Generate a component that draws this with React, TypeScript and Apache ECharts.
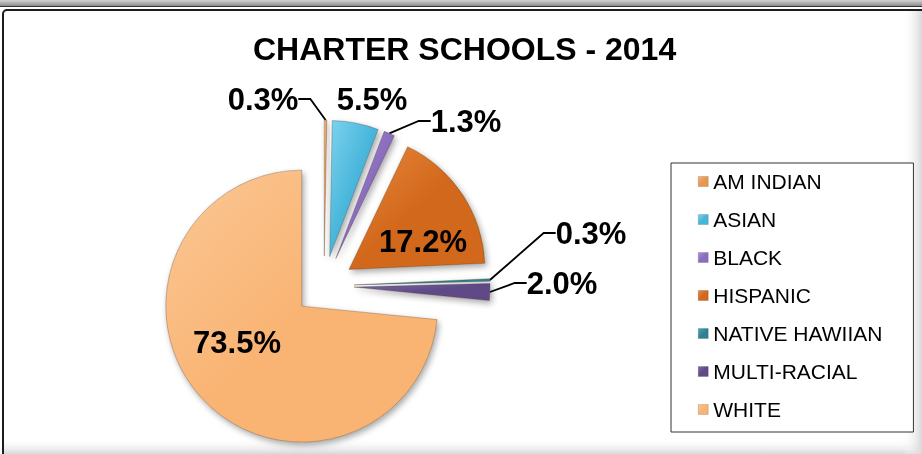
import React, { useEffect, useRef } from "react";
import * as echarts from "echarts";

const titleText = "CHARTER SCHOOLS - 2014";
const categories = ["AM INDIAN", "ASIAN", "BLACK", "HISPANIC", "NATIVE HAWIIAN", "MULTI-RACIAL", "WHITE"];
const percents = [0.3, 5.5, 1.3, 17.2, 0.3, 2.0, 73.5];
const baseColors = ["#E8974F", "#47B5DA", "#8A6DBE", "#D2681C", "#2F8293", "#5E4A86", "#F9B473"];
const lightColors = ["#F5B57A", "#7DD3EE", "#A891D6", "#E8883E", "#4FA5B8", "#7C68A6", "#FBC796"];

// layout settings
const pieCenter = [324, 286];
const pieRadius = 136;
const explode = 30;
const insideLabels = [3, 6];
const labelPos: [number, number][] = [
  [263, 99], [372, 99], [466, 121], [423, 241], [591, 233], [562, 283], [237, 342],
];

export default function App() {
  const ref = useRef<HTMLDivElement>(null);
  useEffect(() => {
    if (!ref.current) return;
    const chart = echarts.init(ref.current, undefined, { renderer: "svg" });
    const font = "'Liberation Sans', Arial, sans-serif";
    const total = percents.reduce((a, b) => a + b, 0);

    const gradient = (i: number) =>
      new echarts.graphic.LinearGradient(0, 0, 1, 1, [
        { offset: 0, color: lightColors[i] },
        { offset: 0.5, color: baseColors[i] },
        { offset: 1, color: baseColors[i] },
      ]);

    let cum = 0;
    const series = categories.map((_, k) => {
      const mid = ((cum + percents[k] / 2) / total) * Math.PI * 2;
      cum += percents[k];
      const cx = pieCenter[0] + explode * Math.sin(mid);
      const cy = pieCenter[1] - explode * Math.cos(mid);
      const inside = insideLabels.includes(k);
      return {
        type: "pie",
        name: categories[k],
        center: [cx, cy],
        radius: [0, pieRadius],
        startAngle: 90,
        clockwise: true,
        avoidLabelOverlap: false,
        minAngle: 0,
        selectedMode: false,
        emphasis: { disabled: true },
        z: k === 6 ? 1 : 2,
        labelLayout: (params: any) => {
          if (params.dataIndex !== k) return {};
          const p = labelPos[k];
          return { x: p[0], y: p[1], align: "center", verticalAlign: "middle" };
        },
        data: categories.map((name, i) => {
          const on = i === k;
          return {
            name,
            value: percents[i],
            itemStyle: on
              ? {
                  color: gradient(i),
                  borderColor: "rgba(60,40,20,0.35)",
                  borderWidth: 0.8,
                  shadowBlur: 6,
                  shadowColor: "rgba(0,0,0,0.35)",
                  shadowOffsetX: 2,
                  shadowOffsetY: 3,
                }
              : { color: "rgba(0,0,0,0)", borderWidth: 0, shadowBlur: 0 },
            label: on
              ? {
                  show: true,
                  position: inside ? "inside" : "outside",
                  formatter: (p: any) => Number(p.value).toFixed(1) + "%",
                  fontFamily: font,
                  fontSize: 31,
                  fontWeight: "bold",
                  color: "#000",
                }
              : { show: false },
            labelLine: on && !inside && k !== 1
              ? { show: true, length: 10, length2: 12, lineStyle: { color: "#000", width: 1.8 } }
              : { show: false },
          };
        }),
      };
    });

    chart.setOption({
      animation: false,
      backgroundColor: "transparent",
      title: {
        text: titleText,
        left: 248,
        top: 28,
        textStyle: { fontFamily: font, fontSize: 32, fontWeight: "bold", color: "#000" },
      },
      legend: {
        orient: "vertical",
        left: 671,
        top: 163,
        padding: [8, 31, 12, 27],
        itemGap: 17,
        itemWidth: 10,
        itemHeight: 10,
        icon: "rect",
        selectedMode: false,
        borderColor: "#333",
        borderWidth: 1,
        backgroundColor: "#fff",
        data: categories.map((name, i) => ({
          name,
          itemStyle: { color: gradient(i), borderColor: "rgba(0,0,0,0.3)", borderWidth: 0.5 },
        })),
        textStyle: { fontFamily: font, fontSize: 21, color: "#000" },
      },
      graphic: [
        {
          type: "rect",
          z: -10,
          shape: { x: 0, y: 0, width: 922, height: 6 },
          style: {
            fill: new echarts.graphic.LinearGradient(0, 0, 0, 1, [
              { offset: 0, color: "#d4d4d4" },
              { offset: 1, color: "#8a8a8a" },
            ]),
          },
        },
        { type: "rect", z: -10, shape: { x: 0, y: 6, width: 922, height: 1 }, style: { fill: "#333" } },
        {
          type: "rect",
          z: -9,
          shape: { x: 3, y: 10, width: 940, height: 460, r: 4 },
          style: { fill: "#fff", stroke: "#1c1c1c", lineWidth: 2 },
        },
        {
          type: "rect",
          z: -8,
          shape: { x: 4, y: 438, width: 918, height: 16 },
          style: {
            fill: new echarts.graphic.LinearGradient(0, 0, 0, 1, [
              { offset: 0, color: "rgba(255,255,255,0)" },
              { offset: 1, color: "#d8d8d8" },
            ]),
          },
        },
        {
          type: "rect",
          z: -8,
          shape: { x: 902, y: 11, width: 20, height: 443 },
          style: {
            fill: new echarts.graphic.LinearGradient(0, 0, 1, 0, [
              { offset: 0, color: "rgba(255,255,255,0)" },
              { offset: 1, color: "#d8d8d8" },
            ]),
          },
        },
      ],
      series,
    });
    return () => chart.dispose();
  }, []);
  return (
    <div
      ref={ref}
      style={{ position: "fixed", left: 0, top: 0, width: 922, height: 454 }}
    />
  );
}
